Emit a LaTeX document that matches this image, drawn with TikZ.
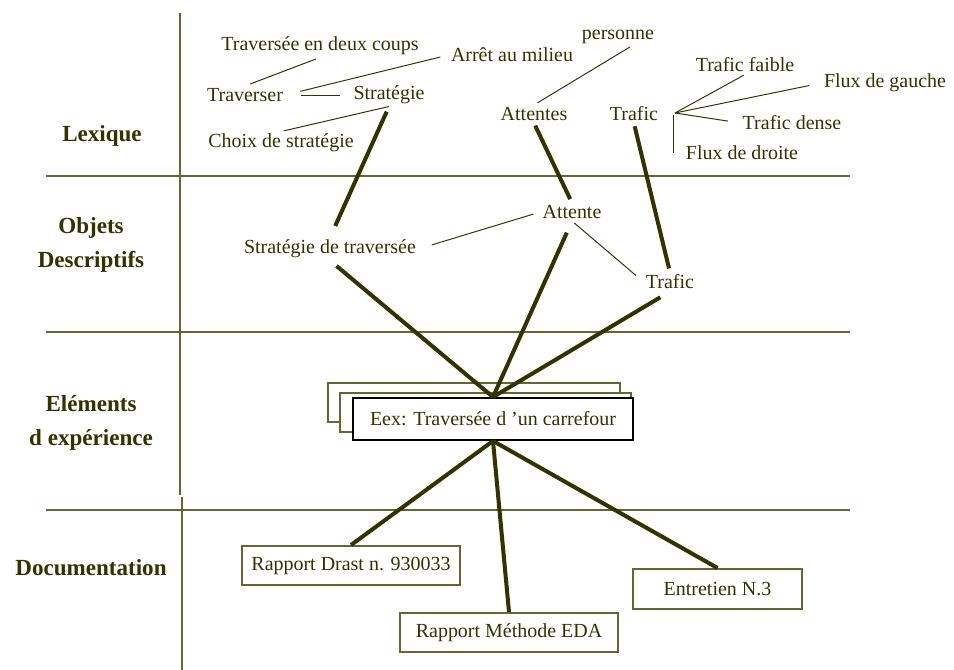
\documentclass[tikz,border=0pt]{standalone}
\usepackage{fontspec}
\setmainfont{Liberation Serif}
\usepackage{tikz}
\usetikzlibrary{calc}

\definecolor{encre}{RGB}{51,51,0}
\definecolor{trait}{RGB}{102,102,51}

\begin{document}
\begin{tikzpicture}[x=0.025cm, y=-0.025cm,
    mot/.style={inner sep=1.5pt, text=encre, font=\fontsize{14.2}{17}\selectfont},
    titre/.style={inner sep=1.5pt, align=center, text=encre, font=\fontsize{16.4}{24.2}\selectfont\bfseries},
    lien/.style={draw=encre, line width=2.85pt},
    fin/.style={draw=encre, line width=0.7pt},
    cadre/.style={mot, draw=trait, line width=1.4pt, fill=white, minimum height=0.975cm}]
      \useasboundingbox (0,0) rectangle (954,670);

      % cadre du tableau
      \draw[trait, line width=1.4pt] (180,13) -- (180,495);
      \draw[trait, line width=1.4pt] (182,497) -- (182,670);
      \draw[trait, line width=1.4pt] (46,176) -- (850,176);
      \draw[trait, line width=1.4pt] (46,332) -- (850,332);
      \draw[trait, line width=1.4pt] (46,510) -- (850,510);

      \node [titre] (lex) at (102,136) {Lexique};
      \node [titre] (obj) at (91,245) {Objets\\Descriptifs};
      \node [titre] (elem) at (91,423) {Eléments\\d expérience};
      \node [titre] (doc) at (91,568) {Documentation};

      % lexique
      \node [mot] (coups) at (320,46) {Traversée en deux coups};
      \node [mot] (arret) at (512,55) {Arrêt au milieu};
      \node [mot] (personne) at (618,37) {personne};
      \node [mot] (traverser) at (245,95) {Traverser};
      \node [mot] (stratL) at (389,95) {Stratégie};
      \node [mot] (choix) at (281,143) {Choix de stratégie};
      \node [mot] (attL) at (534,114) {Attentes};
      \node [mot] (trafL) at (634,114) {Trafic};
      \node [mot] (faible) at (745,65) {Trafic faible};
      \node [mot] (gauche) at (885,83) {Flux de gauche};
      \node [mot] (dense) at (792,123) {Trafic dense};
      \node [mot] (droite) at (742,153) {Flux de droite};
      \coordinate (jTraf) at (675,113);

      \draw[fin, shorten <=3pt, shorten >=4pt] (coups.south) -- (traverser.north);
      \draw[fin, shorten <=6pt, shorten >=11pt] (arret.west) -- (traverser.east);
      \draw[fin, shorten <=11pt, shorten >=8pt] (traverser.east) -- (stratL.west);
      \draw[fin, shorten <=2pt] (choix.north) -- (stratL.south);
      \draw[fin, shorten <=1pt, shorten >=3pt] (personne.-35) -- (attL.north);
      \draw[fin, shorten >=1pt] (jTraf) -- (faible.south);
      \draw[fin, shorten >=9pt] (jTraf) -- (gauche.west);
      \draw[fin, shorten >=9pt] (jTraf) -- (dense.west);
      \draw[fin] (jTraf) ++(-2,2) -- ($(jTraf |- droite.center)+(-2,0)$);

      % objets descriptifs
      \node [mot] (stratT) at (330,249) {Stratégie de traversée};
      \node [mot] (attO) at (572,212) {Attente};
      \node [mot] (trafO) at (670,282) {Trafic};

      \draw[fin, shorten <=10pt, shorten >=5pt] (stratT.east) -- (attO.west);
      \draw[fin, shorten <=2pt, shorten >=7pt] (attO.south) -- (trafO.west);

      \draw[lien, shorten <=4pt, shorten >=9pt] (stratL.south) -- (stratT.north);
      \draw[lien, shorten <=2pt, shorten >=3pt] (attL.south) -- (attO.north);
      \draw[lien, shorten <=2pt, shorten >=3pt] (trafL.south) -- (trafO.north);

      % elements d'experience
      \node [cadre, minimum width=7.3cm] (eexA) at (474,402.5) {};
      \node [cadre, minimum width=7.275cm] (eexB) at (485.5,412.5) {};
      \node [cadre, draw=black, minimum width=7cm, minimum height=1.05cm] (eex) at (493,419) {Eex: Traversée d ’un carrefour};

      \draw[lien, shorten <=6pt] (stratT.south) -- (eex.north);
      \draw[lien, shorten <=9pt] (attO.south) -- (eex.north);
      \draw[lien, shorten <=8pt] (trafO.south) -- (eex.north);

      % documentation
      \node [cadre, minimum width=5.45cm] (drast) at (351,565.5) {Rapport Drast n. 930033};
      \node [cadre, minimum width=5.45cm] (eda) at (509,632.5) {Rapport Méthode EDA};
      \node [cadre, minimum width=4.225cm, minimum height=1cm] (ent) at (717.5,589) {Entretien N.3};

      \draw[lien] (eex.south) -- (drast.north);
      \draw[lien] (eex.south) -- (eda.north);
      \draw[lien] (eex.south) -- (ent.north);
    \end{tikzpicture}
\end{document}
